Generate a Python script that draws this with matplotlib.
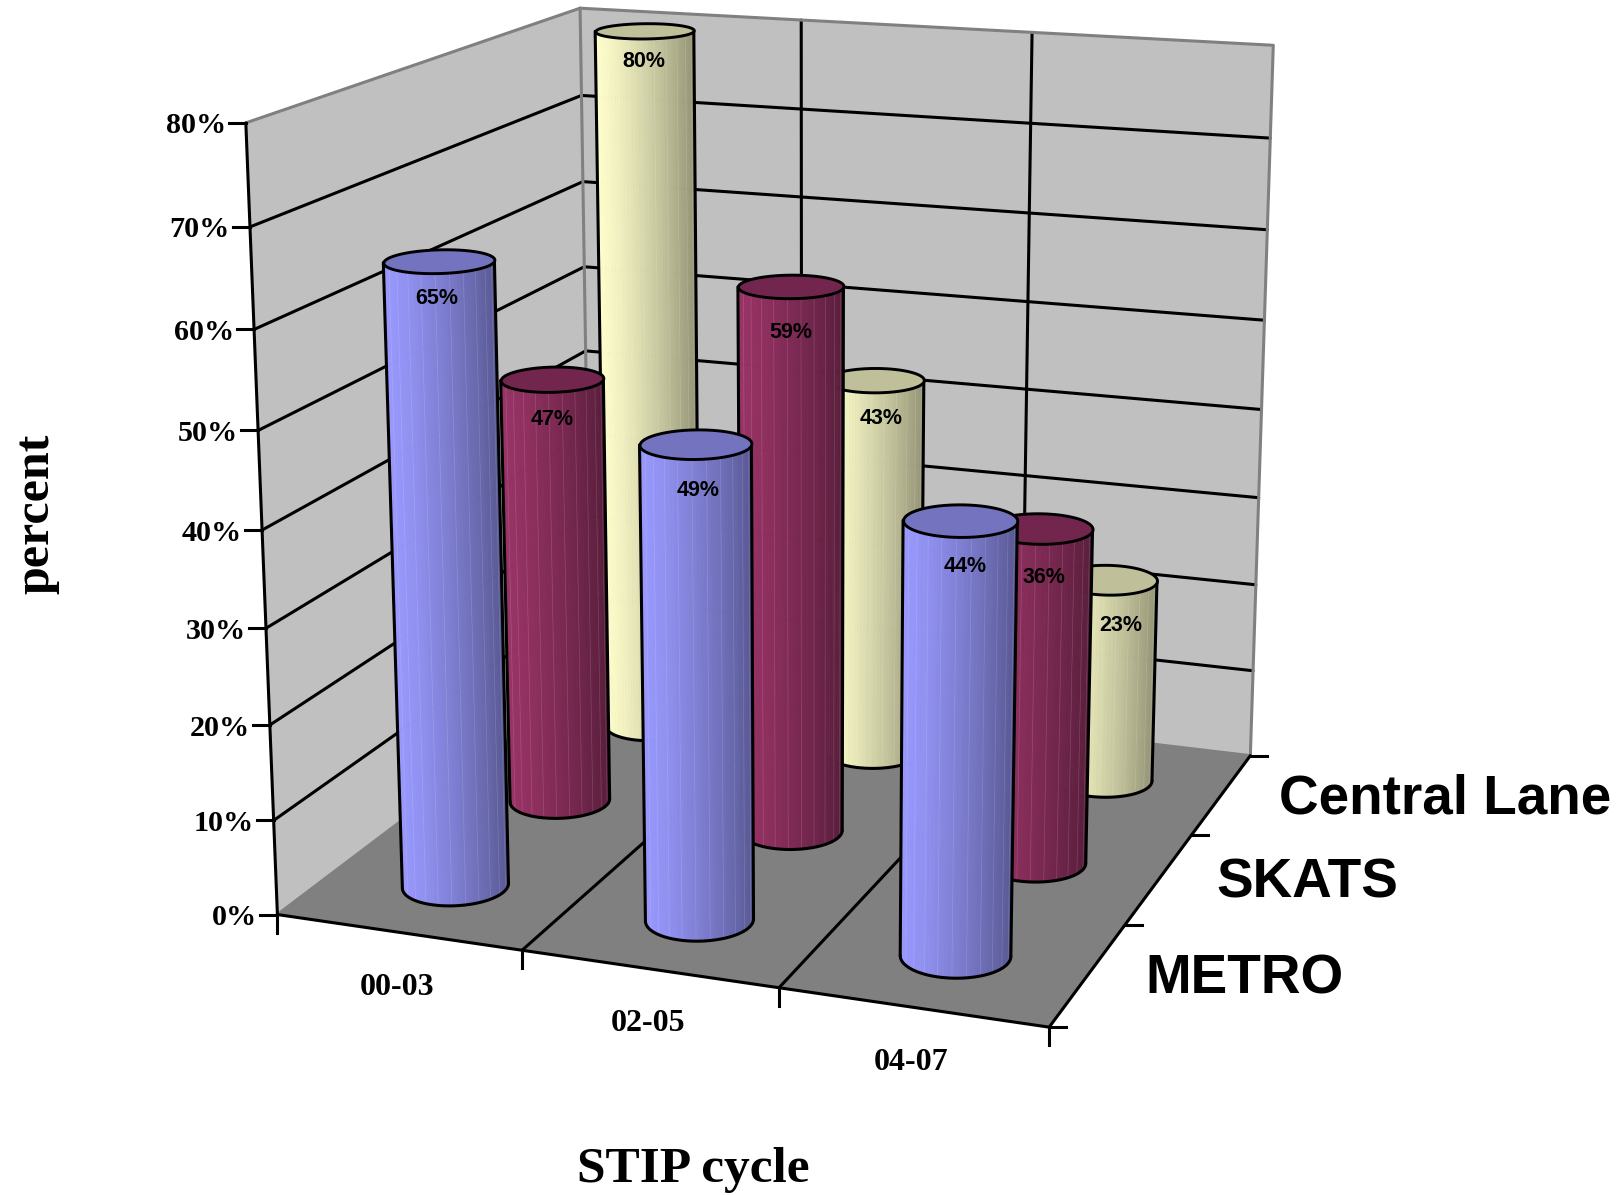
import numpy as np
import matplotlib
matplotlib.use('Agg')
import matplotlib.pyplot as plt
from matplotlib.lines import Line2D
from mpl_toolkits.mplot3d.art3d import Poly3DCollection

cycles = ['00-03', '02-05', '04-07']
series = ['METRO', 'SKATS', 'Central Lane']
metro = [65, 49, 44]
skats = [47, 59, 36]
central = [80, 43, 23]
value_ticks = [0, 10, 20, 30, 40, 50, 60, 70, 80]
colors = ['#9999FF', '#993366', '#FFFFCC']

# pixel nudges of the value labels, same order as the series
label_nudge = [[(-2, 3), (3, -7), (5, -6)],
               [(0, 0), (0, -6), (5, -9)],
               [(-1, 9), (6, 1), (13, -6)]]

W, H = 1621, 1195

# camera is fitted from where the box corners sit in the reference (x, depth, percent -> pixel)
box_pts = [(0, 0, 0), (3, 0, 0), (3, 3, 0), (0, 3, 0), (0, 0, 80), (3, 3, 80), (0, 3, 80),
           (0, 0, 70), (0, 3, 70), (3, 3, 70)]
px_pts = [(276.7, 916), (1049, 1026), (1250, 757), (592, 676), (246.7, 122.7), (1273.6, 45.5),
          (579.3, 8.3), (250, 226.7), (581, 96), (1270.5, 137.5)]


def fit_camera(world, pixels):
    rows = []
    for (x, y, z), (u, v) in zip(world, pixels):
        rows.append([x, y, z, 1, 0, 0, 0, 0, -u * x, -u * y, -u * z, -u])
        rows.append([0, 0, 0, 0, x, y, z, 1, -v * x, -v * y, -v * z, -v])
    p = np.linalg.svd(np.array(rows, dtype=float))[2][-1].reshape(3, 4)
    if p[2, 3] < 0:
        p = -p
    p = p / p[2, 3]
    return np.array([p[0], p[1], [0, 0, 0, -1], p[2]])


M = fit_camera(box_pts, px_pts)


def to_px(x, d, z):
    v = M @ np.array([x, d, z, 1.0])
    return v[0] / v[3], v[1] / v[3]


fig = plt.figure(figsize=(W / 100, H / 100), dpi=100)
ax = fig.add_subplot(projection='3d', computed_zorder=False)
ax.set_proj_type('ortho')  # stops Line3D masking points outside -1..1
# square panel wider than the figure, so 2D data units are reference pixels
extra = (W - H) / 2
ax.set_position([0, -extra / H, 1, W / H])
ax.get_proj = lambda: M
ax.viewLim.intervalx = (0, W)
ax.viewLim.intervaly = (H + extra, -extra)
ax.set_axis_off()


def quad(verts, color, z):
    ax.add_collection3d(Poly3DCollection([verts], facecolors=color, edgecolors='none', zorder=z))


def line3(xs, ds, zs, color='black', lw=2.2, z=3):
    ax.plot(xs, ds, zs, color=color, lw=lw, zorder=z, solid_capstyle='round')


def tick(x, d, z, dx, dy):
    u, v = to_px(x, d, z)
    ax.add_artist(Line2D([u, u + dx], [v, v + dy], color='black', lw=2.2, zorder=5))


top = value_ticks[-1]
quad([(0, 0, 0), (0, 3, 0), (0, 3, top), (0, 0, top)], '#C0C0C0', 1)
quad([(0, 3, 0), (3, 3, 0), (3, 3, top), (0, 3, top)], '#C0C0C0', 1)
quad([(0, 0, 0), (3, 0, 0), (3, 3, 0), (0, 3, 0)], '#808080', 3)

for v in value_ticks[1:-1]:
    line3([0, 0, 3], [0, 3, 3], [v, v, v], z=2)
for i in [1, 2]:
    line3([i, i], [3, 3], [0, top], z=2)
    line3([i, i], [0, 3], [0, 0], z=3.5)

for xs, ds, zs in [([0, 3, 3], [3, 3, 3], [top, top, 0]), ([0, 0], [0, 3], [top, top]),
                   ([0, 0], [3, 3], [0, top]), ([0, 0, 3], [0, 3, 3], [0, 0, 0])]:
    line3(xs, ds, zs, color='#808080', lw=2.2, z=3.2)

line3([0, 0], [0, 0], [0, top], z=4)
line3([0, 3, 3], [0, 0, 3], [0, 0, 0], z=4)

for v in value_ticks:
    tick(0, 0, v, -17, 0)
    ax.annotate(f'{v}%', xy=to_px(0, 0, v), xytext=(-20, -3), textcoords='offset pixels', ha='right',
                va='center', family='Liberation Serif', weight='bold', fontsize=21.7, zorder=6)
for i in range(4):
    tick(i, 0, 0, 0, 18)
for j in range(4):
    tick(3, j, 0, 17, 0)

for i, name in enumerate(cycles):
    ax.annotate(name, xy=to_px(i + 0.5, 0, 0), xytext=(-1, -55), textcoords='offset pixels', ha='center',
                va='center', family='Liberation Serif', weight='bold', fontsize=23, zorder=6)
for j, name in enumerate(series):
    ax.annotate(name, xy=to_px(3, j + 0.5, 0), xytext=(57, -5), textcoords='offset pixels', ha='left',
                va='center', family='Liberation Sans', weight='bold', fontsize=39.5, zorder=6)

fig.text(693 / W, 1 - 1170 / H, 'STIP cycle', ha='center', va='center', family='Liberation Serif',
         weight='bold', fontsize=37)
fig.text(36 / W, 1 - 514 / H, 'percent', ha='center', va='center', rotation=90, family='Liberation Serif',
         weight='bold', fontsize=36)


def shade(color, f):
    return tuple(c * f for c in matplotlib.colors.to_rgb(color))


def cylinder(cx, cd, value, color, z, rx=0.2, rd=0.21):
    angles = np.linspace(0, 2 * np.pi, 361)
    screen = [to_px(cx + rx * np.cos(a), cd + rd * np.sin(a), value / 2)[0] for a in angles]
    a0, a1 = angles[int(np.argmin(screen))], angles[int(np.argmax(screen))]
    if a1 < a0:
        a1 += 2 * np.pi
    arc = np.linspace(a0, a1, 49)
    xs = cx + rx * np.cos(arc)
    ds = cd + rd * np.sin(arc)
    us = np.array([to_px(a, b, value / 2)[0] for a, b in zip(xs, ds)])
    t = (us - us.min()) / (us.max() - us.min())
    faces = []
    cols = []
    for k in range(len(arc) - 1):
        faces.append([(xs[k], ds[k], 0), (xs[k + 1], ds[k + 1], 0), (xs[k + 1], ds[k + 1], value), (xs[k], ds[k], value)])
        tm = (t[k] + t[k + 1]) / 2
        cols.append(shade(color, 1 - 0.42 * tm ** 1.3))
    ax.add_collection3d(Poly3DCollection(faces, facecolors=cols, edgecolors=cols, linewidths=0.6, zorder=z, zsort='min'))
    # faint light streaks like the facet seams of the original
    for k in range(3, len(arc) - 3, 4):
        ax.plot([xs[k], xs[k]], [ds[k], ds[k]], [0, value], color='white', lw=0.5, alpha=0.16, zorder=z + 0.05)
    ring = np.linspace(0, 2 * np.pi, 73)
    cap = [(cx + rx * np.cos(a), cd + rd * np.sin(a), value) for a in ring]
    ax.add_collection3d(Poly3DCollection([cap], facecolors=[shade(color, 0.75)], edgecolors='black',
                                         linewidths=2.1, zorder=z + 0.2))
    line3(xs, ds, np.zeros_like(xs), z=z + 0.1)
    line3([xs[0], xs[0]], [ds[0], ds[0]], [0, value], z=z + 0.1)
    line3([xs[-1], xs[-1]], [ds[-1], ds[-1]], [0, value], z=z + 0.1)


z_now = 10
for j, vals in reversed(list(enumerate([metro, skats, central]))):
    for i, val in enumerate(vals):
        cylinder(i + 0.5, j + 0.5, val, colors[j], z_now)
        nx, ny = label_nudge[j][i]
        ax.annotate(f'{val}%', xy=to_px(i + 0.5, j + 0.5, val), xytext=(nx, -40 + ny), textcoords='offset pixels',
                    ha='center', va='center', family='Liberation Sans', weight='bold', fontsize=15.5,
                    zorder=z_now + 0.5)
        z_now += 1

fig.savefig('out.png', dpi=100)
